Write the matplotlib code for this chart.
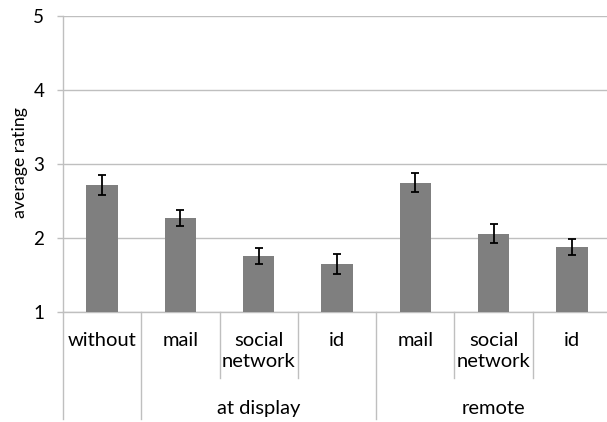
import matplotlib
matplotlib.use("Agg")
import matplotlib.pyplot as plt
from matplotlib.transforms import blended_transform_factory

plt.rcParams['font.family'] = ['Lato', 'DejaVu Sans']

categories = ["without", "mail", "social\nnetwork", "id", "mail", "social\nnetwork", "id"]
groups = ["", "at display", "remote"]
group_spans = [(0, 0), (1, 3), (4, 6)]
ratings = [2.72, 2.27, 1.76, 1.65, 2.75, 2.06, 1.88]
errors = [0.135, 0.11, 0.11, 0.14, 0.125, 0.13, 0.11]
yticks = [1, 2, 3, 4, 5]

W, H, DPI = 607, 422, 100
fig = plt.figure(figsize=(W / DPI, H / DPI), dpi=DPI)

# axes box in pixel terms
x0, x1, ytop, ybot = 63, 611, 16, 312
ax = fig.add_axes([x0 / W, (H - ybot) / H, (x1 - x0) / W, (ybot - ytop) / H])

grid_col = "#bfbfbf"
bar_col = "#7f7f7f"
label_size = 14.5

xs = list(range(len(categories)))
ax.bar(xs, ratings, bottom=0, width=0.4, color=bar_col, zorder=3)
ax.errorbar(xs, ratings, yerr=errors, fmt="none", ecolor="black",
            elinewidth=1.3, capsize=3, capthick=1.3, zorder=4)

ax.set_xlim(-0.5, len(categories) - 0.5)
ax.set_ylim(1, 5)
ax.set_yticks(yticks)
ax.set_yticklabels([str(t) for t in yticks])
ax.yaxis.grid(True, color=grid_col, linewidth=1.0, zorder=0)
ax.tick_params(axis="y", length=4.5, width=1.0, color=grid_col, pad=9,
               labelsize=13.5, labelcolor="#000000")
ax.set_xticks([])

for s in ["top", "right"]:
    ax.spines[s].set_visible(False)
ax.spines["left"].set_color(grid_col)
ax.spines["bottom"].set_color(grid_col)
ax.spines["left"].set_linewidth(1.0)
ax.spines["bottom"].set_linewidth(1.0)

fig.text(20 / W, (H - 163) / H, "average rating", rotation=90,
         ha="center", va="center", fontsize=12.8)

trans = blended_transform_factory(ax.transData, ax.transAxes)
axh = ybot - ytop


def yfrac(py):
    return (ybot - py) / axh


# category labels
for x, lab in zip(xs, categories):
    ax.text(x, yfrac(332), lab, transform=trans, ha="center", va="top",
            fontsize=label_size, linespacing=1.3)

# group labels
for g, (a, b) in zip(groups, group_spans):
    if g:
        ax.text((a + b) / 2, yfrac(414), g, transform=trans,
                ha="center", va="baseline", fontsize=label_size)

# separators below the axis
full_bottom = yfrac(419)
short_bottom = yfrac(378)
bounds = [-0.5 + i for i in range(len(categories) + 1)]
group_edges = {-0.5, 0.5, 3.5, 6.5}
for bx in bounds:
    yb = full_bottom if bx in group_edges else short_bottom
    ax.plot([bx, bx], [0, yb], transform=trans, color=grid_col,
            linewidth=1.0, clip_on=False, zorder=1)

fig.savefig("out.png", dpi=DPI)
